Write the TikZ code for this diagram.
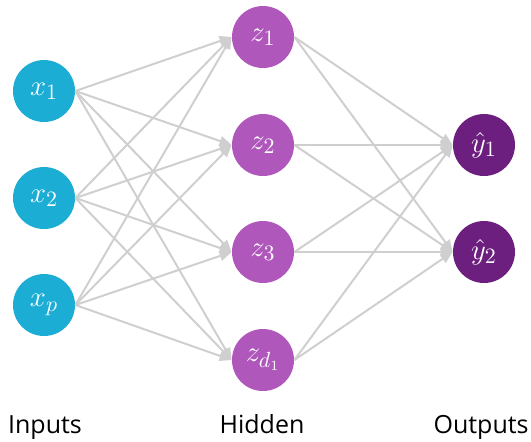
\documentclass[tikz,border=0pt]{standalone}
\usepackage{amsmath}
\usepackage{fontspec}
\setsansfont{Open Sans}
\usetikzlibrary{positioning,arrows.meta}

\definecolor{incol}{HTML}{1BADD3}
\definecolor{hidcol}{HTML}{B057BC}
\definecolor{outcol}{HTML}{6D1F7F}
\definecolor{edgecol}{HTML}{CFCFCF}

\tikzset{
  unit/.style={circle,minimum size=31pt,inner sep=0pt,text=white,font=\fontsize{15}{17}\selectfont},
  edge/.style={edgecol,line width=1pt,-{Triangle[length=6pt,width=5pt]}},
  layername/.style={font=\sffamily\fontsize{12.5}{14}\selectfont,anchor=base}
}

\begin{document}
\begin{tikzpicture}[x=0.5pt,y=-0.5pt]
		\useasboundingbox (0,0) rectangle (531,441);
		% input layer
		\node[unit,fill=incol] (x1) at (44,91) {$x_1$};
		\node[unit,fill=incol] (x2) at (44,198) {$x_2$};
		\node[unit,fill=incol] (xp) at (44,305) {$x_p$};
		% hidden layer
		\node[unit,fill=hidcol] (z1) at (263,37) {$z_1$};
		\node[unit,fill=hidcol] (z2) at (263,145) {$z_2$};
		\node[unit,fill=hidcol] (z3) at (263,252) {$z_3$};
		\node[unit,fill=hidcol] (zd) at (263,360) {$z_{d_1}$};
		% output layer
		\node[unit,fill=outcol] (y1) at (484,145) {$\hat{y}_1$};
		\node[unit,fill=outcol] (y2) at (484,252) {$\hat{y}_2$};
		% connections
		\foreach \i in {x1,x2,xp}
			\foreach \j in {z1,z2,z3,zd}
				\draw[edge] (\i.east) -- (\j.west);
		\foreach \j in {z1,z2,z3,zd}
			\foreach \k in {y1,y2}
				\draw[edge] (\j.east) -- (\k.west);
		% layer names
		\node[layername] (lin) at (45,433) {Inputs};
		\node[layername] (lhid) at (262,433) {Hidden};
		\node[layername,anchor=base east,inner xsep=1pt] (lout) at (531,433) {Outputs};
	\end{tikzpicture}
\end{document}
